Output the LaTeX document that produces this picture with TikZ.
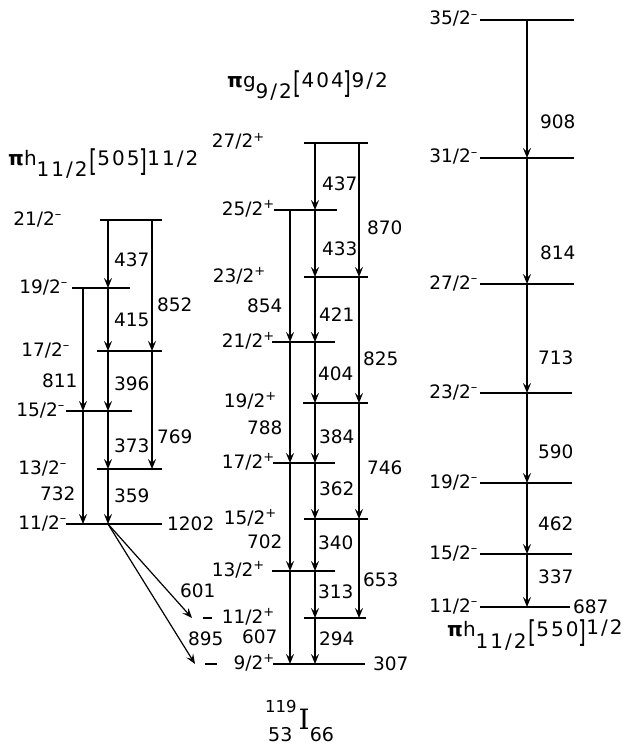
\documentclass[tikz,border=0pt]{standalone}
\usepackage{fontspec}
\setmainfont{DejaVu Sans}
\newfontfamily\serifI{DejaVu Serif}
\newfontfamily\headfont[LetterSpace=10]{DejaVu Sans}
\usepackage{graphicx}
\usetikzlibrary{arrows.meta}

\newcommand{\brk}[1]{\raisebox{-6pt}{\scalebox{1}[1.5]{#1}}}
\newcommand{\orbital}[4]{{\bfseries π}#1\raisebox{-11pt}{#2}\hspace{2pt}\brk{[}#3\brk{]}#4}
\newcommand{\parneg}{\textsuperscript{–}}
\newcommand{\parpos}{\textsuperscript{+}}

\begin{document}
\begin{tikzpicture}[x=1pt, y=-1pt,
  lvl/.style={line width=1.4pt},
  tr/.style={line width=1.2pt, -{Stealth[length=10pt,width=8pt,inset=4pt]}},
  en/.style={anchor=west, inner sep=0pt, font=\fontsize{18.5}{21}\selectfont},
  spin/.style={anchor=base east, inner sep=0pt, font=\fontsize{18.5}{21}\selectfont},
  head/.style={anchor=base west, inner sep=0pt, font=\headfont\fontsize{20}{23}\selectfont},
]
  \useasboundingbox (0,0) rectangle (624,746);

  % columns of the transitions
  \coordinate (cA) at (108,0);
  \coordinate (cB) at (152,0);
  \coordinate (cC) at (83,0);
  \coordinate (cD) at (315,0);
  \coordinate (cE) at (359,0);
  \coordinate (cF) at (290,0);
  \coordinate (cG) at (527,0);

  % h11/2 [505] band
  \node[head] (hA) at (8,165) {\orbital{h}{11/2}{505}{11/2}};
  \draw[lvl] (100,220) coordinate (a21) -- (162,220);
  \draw[lvl] (72,288)  coordinate (a19) -- (130,288);
  \draw[lvl] (97,351)  coordinate (a17) -- (162,351);
  \draw[lvl] (66,411)  coordinate (a15) -- (132,411);
  \draw[lvl] (97,469)  coordinate (a13) -- (162,469);
  \draw[lvl] (66,524)  coordinate (a11) -- (162,524);
  \node[spin] (sa21) at (62,225) {21/2\parneg};
  \node[spin] (sa19) at (68,293) {19/2\parneg};
  \node[spin] (sa17) at (70,356) {17/2\parneg};
  \node[spin] (sa15) at (65,416) {15/2\parneg};
  \node[spin] (sa13) at (67,474) {13/2\parneg};
  \node[spin] (sa11) at (67,529) {11/2\parneg};
  \node[en] (ea1202) at (167,524) {1202};

  \draw[tr] (cA |- a21) -- (cA |- a19);
  \draw[tr] (cA |- a19) -- (cA |- a17);
  \draw[tr] (cA |- a17) -- (cA |- a15);
  \draw[tr] (cA |- a15) -- (cA |- a13);
  \draw[tr] (cA |- a13) -- (cA |- a11);
  \draw[tr] (cB |- a21) -- (cB |- a17);
  \draw[tr] (cB |- a17) -- (cB |- a13);
  \draw[tr] (cC |- a19) -- (cC |- a15);
  \draw[tr] (cC |- a15) -- (cC |- a11);
  \node[en] (ea437) at (114,260) {437};
  \node[en] (ea415) at (114,320) {415};
  \node[en] (ea396) at (114,384) {396};
  \node[en] (ea373) at (114,446) {373};
  \node[en] (ea359) at (114,496) {359};
  \node[en] (ea852) at (157,305) {852};
  \node[en] (ea769) at (157,437) {769};
  \node[en] (ea811) at (42,381)  {811};
  \node[en] (ea732) at (40,494)  {732};

  % g9/2 [404] band
  \node[head] (hB) at (227,88) {\orbital{g}{9/2}{404}{9/2}};
  \draw[lvl] (304,143) coordinate (b27) -- (368,143);
  \draw[lvl] (274,210) coordinate (b25) -- (337,210);
  \draw[lvl] (304,277) coordinate (b23) -- (368,277);
  \draw[lvl] (272,342) coordinate (b21) -- (335,342);
  \draw[lvl] (303,403) coordinate (b19) -- (368,403);
  \draw[lvl] (273,463) coordinate (b17) -- (335,463);
  \draw[lvl] (304,519) coordinate (b15) -- (368,519);
  \draw[lvl] (272,571) coordinate (b13) -- (335,571);
  \draw[lvl] (304,618) coordinate (b11) -- (366,618);
  \draw[lvl] (273,664) coordinate (b9)  -- (365,664);
  \draw[lvl] (203,618) -- (212,618);
  \draw[lvl] (205,664) -- (217,664);
  \node[spin] (sb27) at (265,148) {27/2\parpos};
  \node[spin] (sb25) at (275,215) {25/2\parpos};
  \node[spin] (sb23) at (266,282) {23/2\parpos};
  \node[spin] (sb21) at (275,347) {21/2\parpos};
  \node[spin] (sb19) at (277,407) {19/2\parpos};
  \node[spin] (sb17) at (275,468) {17/2\parpos};
  \node[spin] (sb15) at (277,524) {15/2\parpos};
  \node[spin] (sb13) at (265,576) {13/2\parpos};
  \node[spin] (sb11) at (275,623) {11/2\parpos};
  \node[spin] (sb9)  at (275,669) {9/2\parpos};
  \node[en] (eb307) at (373,664) {307};

  \draw[tr] (cD |- b27) -- (cD |- b25);
  \draw[tr] (cD |- b25) -- (cD |- b23);
  \draw[tr] (cD |- b23) -- (cD |- b21);
  \draw[tr] (cD |- b21) -- (cD |- b19);
  \draw[tr] (cD |- b19) -- (cD |- b17);
  \draw[tr] (cD |- b17) -- (cD |- b15);
  \draw[tr] (cD |- b15) -- (cD |- b13);
  \draw[tr] (cD |- b13) -- (cD |- b11);
  \draw[tr] (cD |- b11) -- (cD |- b9);
  \draw[tr] (cE |- b27) -- (cE |- b23);
  \draw[tr] (cE |- b23) -- (cE |- b19);
  \draw[tr] (cE |- b19) -- (cE |- b15);
  \draw[tr] (cE |- b15) -- (cE |- b11);
  \draw[tr] (cF |- b25) -- (cF |- b21);
  \draw[tr] (cF |- b21) -- (cF |- b17);
  \draw[tr] (cF |- b17) -- (cF |- b13);
  \draw[tr] (cF |- b13) -- (cF |- b9);
  \node[en] (eb437) at (322,184) {437};
  \node[en] (eb433) at (322,249) {433};
  \node[en] (eb421) at (319,315) {421};
  \node[en] (eb404) at (318,374) {404};
  \node[en] (eb384) at (319,437) {384};
  \node[en] (eb362) at (319,489) {362};
  \node[en] (eb340) at (318,543) {340};
  \node[en] (eb313) at (318,592) {313};
  \node[en] (eb294) at (319,639) {294};
  \node[en] (eb870) at (367,228) {870};
  \node[en] (eb825) at (363,359) {825};
  \node[en] (eb746) at (367,468) {746};
  \node[en] (eb653) at (363,580) {653};
  \node[en] (eb854) at (247,306) {854};
  \node[en] (eb788) at (247,428) {788};
  \node[en] (eb702) at (247,542) {702};
  \node[en] (eb607) at (242,637) {607};

  % decay out of the [505] band head
  \coordinate (p11) at (192,618);
  \coordinate (p9) at (195,664);
  \draw[tr] (cA |- a11) -- (p11);
  \draw[tr] (cA |- a11) -- (p9);
  \node[en] (e601) at (180,591) {601};
  \node[en] (e895) at (188,639) {895};

  % h11/2 [550] band
  \node[head] (hC) at (447,636) {{\bfseries π}h\raisebox{-12pt}{11/2}\hspace{2pt}\brk{[}550\brk{]}\raisebox{2pt}{1/2}};
  \draw[lvl] (480,20)  coordinate (c35) -- (574,20);
  \draw[lvl] (480,158) coordinate (c31) -- (574,158);
  \draw[lvl] (480,284) coordinate (c27) -- (574,284);
  \draw[lvl] (480,393) coordinate (c23) -- (572,393);
  \draw[lvl] (480,483) coordinate (c19) -- (572,483);
  \draw[lvl] (480,554) coordinate (c15) -- (572,554);
  \draw[lvl] (480,607) coordinate (c11) -- (570,607);
  \node[spin] (sc35) at (478,25)  {35/2\parneg};
  \node[spin] (sc31) at (478,163) {31/2\parneg};
  \node[spin] (sc27) at (478,289) {27/2\parneg};
  \node[spin] (sc23) at (478,398) {23/2\parneg};
  \node[spin] (sc19) at (478,488) {19/2\parneg};
  \node[spin] (sc15) at (478,559) {15/2\parneg};
  \node[spin] (sc11) at (478,612) {11/2\parneg};
  \node[en] (ec687) at (573,607) {687};

  \draw[tr] (cG |- c35) -- (cG |- c31);
  \draw[tr] (cG |- c31) -- (cG |- c27);
  \draw[tr] (cG |- c27) -- (cG |- c23);
  \draw[tr] (cG |- c23) -- (cG |- c19);
  \draw[tr] (cG |- c19) -- (cG |- c15);
  \draw[tr] (cG |- c15) -- (cG |- c11);
  \node[en] (ec908) at (540,122) {908};
  \node[en] (ec814) at (540,253) {814};
  \node[en] (ec713) at (538,358) {713};
  \node[en] (ec590) at (538,452) {590};
  \node[en] (ec462) at (538,524) {462};
  \node[en] (ec337) at (538,577) {337};

  % nucleus
  \node[anchor=base west, inner sep=0pt] (nuc) at (265,729)
    {\rlap{\hspace{3pt}\raisebox{-12pt}{\fontsize{19}{21}\selectfont 53}}%
     \raisebox{17pt}{\fontsize{16.5}{18}\selectfont 119}\hspace{2pt}%
     {\serifI\fontsize{28}{30}\selectfont I}%
     \raisebox{-12pt}{\fontsize{19}{21}\selectfont 66}};
\end{tikzpicture}
\end{document}
